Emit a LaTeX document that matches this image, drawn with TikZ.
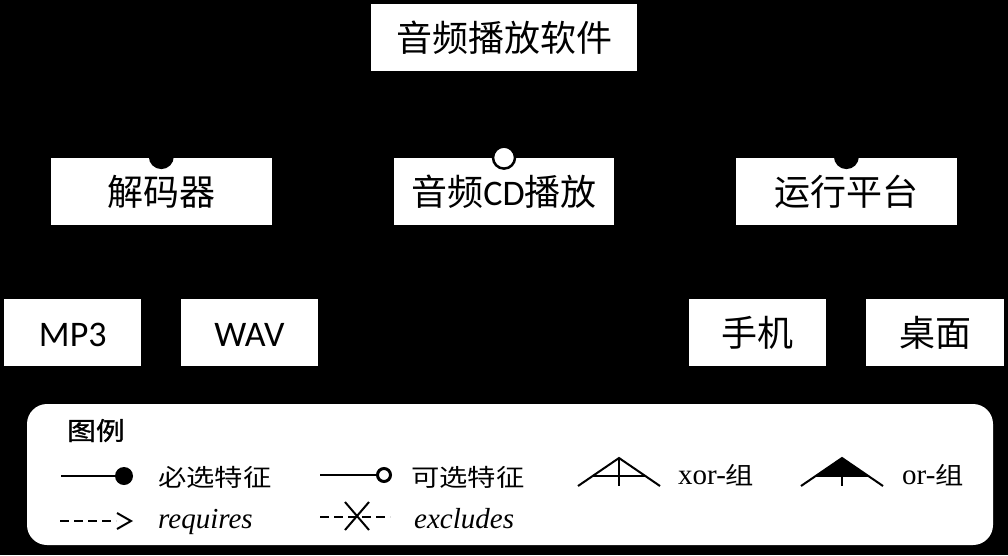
\documentclass[tikz,border=0pt]{standalone}
\usepackage{fontspec}
\usetikzlibrary{backgrounds}
\setmainfont{Liberation Serif}
\newfontfamily\cjk{Noto Sans CJK SC}
\newfontfamily\cjkleg[FakeStretch=1.18]{Noto Sans CJK SC}
\newfontfamily\cjktitle[FakeStretch=1.15,FakeBold=1.2]{Noto Sans CJK SC}
\newfontfamily\latbox{Carlito}
\begin{document}
\begin{tikzpicture}[x=1pt,y=-1pt,
  feat/.style={fill=white, draw=none, minimum height=67pt, inner sep=0pt,
    text height=31.7pt, text depth=4.3pt, font=\fontsize{36}{40}\selectfont},
  mand/.style={circle, fill=black, draw=none, inner sep=0pt, minimum size=25pt},
  opt/.style={circle, fill=white, draw=black, line width=2.5pt, inner sep=0pt, minimum size=22pt},
  conn/.style={draw=black, line width=2pt},
  legtxt/.style={anchor=base west, inner sep=0pt},
  legline/.style={line width=2pt, black},
  dashline/.style={line width=2pt, black, dash pattern=on 9pt off 5pt}
]
\useasboundingbox (0,0) rectangle (1008,555);

% features
\node[feat, minimum width=266pt] (root) at (504,37.5) {\cjk 音频播放软件};
\node[feat, minimum width=221pt] (dec) at (161.3,191.3) {\cjk 解码器};
\node[feat, minimum width=220pt] (cd) at (504,191.3) {\cjk 音频\latbox CD\cjk 播放};
\node[feat, minimum width=221pt] (plat) at (846.4,191.3) {\cjk 运行平台};
\node[feat, minimum width=137pt] (mp3) at (72.8,332.5) {\latbox MP3};
\node[feat, minimum width=137pt] (wav) at (249.5,332.5) {\latbox WAV};
\node[feat, minimum width=137pt] (phone) at (757.5,332.5) {\cjk 手机};
\node[feat, minimum width=138pt] (desk) at (935,332.5) {\cjk 桌面};

% background and connectors (black on black, behind the boxes)
\begin{pgfonlayer}{background}
\fill[black] (0,0) rectangle (1008,555);
\draw[conn] (root.south) -- (dec.north);
\draw[conn] (root.south) -- (cd.north);
\draw[conn] (root.south) -- (plat.north);
\draw[conn] (dec.south) -- (mp3.north);
\draw[conn] (dec.south) -- (wav.north);
\draw[conn] (plat.south) -- (phone.north);
\draw[conn] (plat.south) -- (desk.north);
\end{pgfonlayer}

\node[mand] (decm) at ([yshift=1pt]dec.north) {};
\node[opt] (cdo) at (cd.north) {};
\node[mand] (platm) at ([yshift=1pt]plat.north) {};

% legend
\node[fill=white, draw=none, rounded corners=20pt, minimum width=966pt, minimum height=141pt, inner sep=0pt] (legend) at (510,474.5) {};
\node[legtxt] (legtitle) at (67,440) {\fontsize{25}{28}\selectfont\cjktitle 图例};

% mandatory
\draw[legline] (61,476) -- (116,476);
\fill[black] (124,476) circle (9);
\node[legtxt] (lmand) at (158,486) {\fontsize{24}{28}\selectfont\cjkleg 必选特征};
% optional
\draw[legline] (320,475) -- (377,475);
\draw[black, line width=3pt, fill=white] (384,475) circle (6.5);
\node[legtxt] (lopt) at (411,486) {\fontsize{24}{28}\selectfont\cjkleg 可选特征};
% xor
\draw[legline] (578,486) -- (619,458) -- (660,486);
\draw[legline] (592.6,476) -- (645.4,476);
\draw[legline] (619,458) -- (619,486);
\node[legtxt] (lxor) at (678,484) {\fontsize{29}{32}\selectfont xor-\fontsize{24}{28}\selectfont\cjkleg 组};
% or
\fill[black] (842,458) -- (815.6,476) -- (868.4,476) -- cycle;
\draw[legline] (801,486) -- (842,458) -- (883,486);
\draw[legline] (815.6,476) -- (868.4,476);
\draw[legline] (842,476) -- (842,486);
\node[legtxt] (lor) at (902,484) {\fontsize{29}{32}\selectfont or-\fontsize{24}{28}\selectfont\cjkleg 组};
% requires
\draw[dashline] (60,521) -- (116,521);
\draw[legline, line join=miter] (117,513) -- (131,521) -- (117,529);
\node[legtxt] (lreq) at (158,528) {\fontsize{29}{32}\selectfont\itshape requires};
% excludes
\draw[dashline] (320,517) -- (390,517);
\draw[legline] (345,502) -- (369,530);
\draw[legline] (369,502) -- (345,530);
\node[legtxt] (lexc) at (414,528) {\fontsize{29}{32}\selectfont\itshape excludes};
\end{tikzpicture}
\end{document}
